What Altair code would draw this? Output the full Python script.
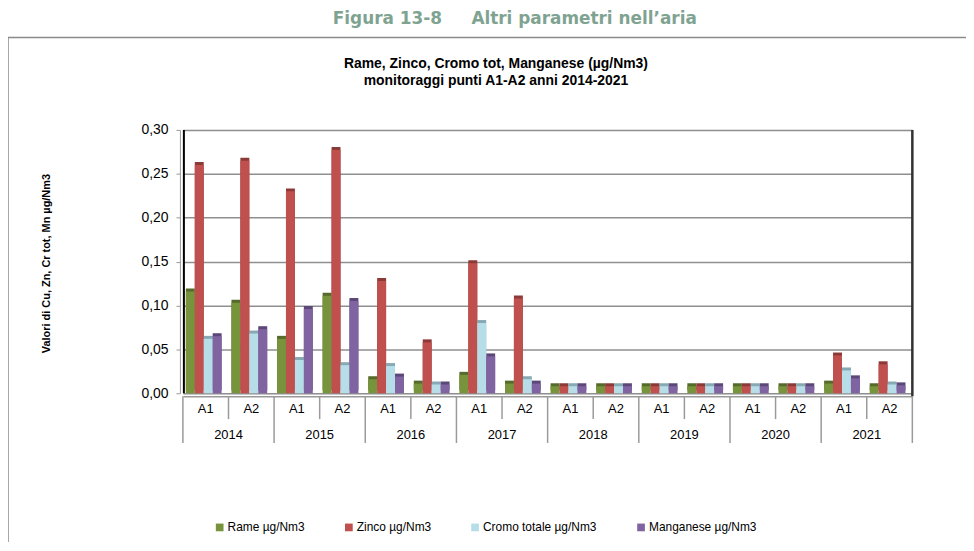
import altair as alt
import pandas as pd

years = ["2014", "2015", "2016", "2017", "2018", "2019", "2020", "2021"]
stations = ["A1", "A2"]
series = ["Rame µg/Nm3", "Zinco µg/Nm3", "Cromo totale µg/Nm3", "Manganese µg/Nm3"]
colors = ["#77933C", "#C0504D", "#B7DEE8", "#8064A2"]
dark_colors = ["#566B2B", "#8C3A38", "#86A9B3", "#5C4878"]

# values per (year, station) in order 2014 A1, 2014 A2, 2015 A1, ...
rame = [0.116, 0.103, 0.062, 0.111, 0.016, 0.011, 0.021, 0.011,
        0.008, 0.008, 0.008, 0.008, 0.008, 0.008, 0.011, 0.008]
zinco = [0.260, 0.265, 0.230, 0.277, 0.128, 0.058, 0.148, 0.108,
         0.008, 0.008, 0.008, 0.008, 0.008, 0.008, 0.043, 0.033]
cromo = [0.062, 0.068, 0.038, 0.032, 0.031, 0.010, 0.080, 0.016,
         0.008, 0.008, 0.008, 0.008, 0.008, 0.008, 0.026, 0.010]
manganese = [0.065, 0.073, 0.096, 0.105, 0.019, 0.010, 0.042, 0.011,
             0.008, 0.008, 0.008, 0.008, 0.008, 0.008, 0.017, 0.009]

y_ticks = [0, 0.05, 0.10, 0.15, 0.20, 0.25, 0.30]

W, H = 734, 265

keys = [f"{y}|{s}" for y in years for s in stations]
rows = []
for si, (name, vals) in enumerate(zip(series, [rame, zinco, cromo, manganese])):
    for k, v in zip(keys, vals):
        rows.append({"k": k, "s": name, "v": v, "dark": dark_colors[si]})
df = pd.DataFrame(rows)

x_scale = alt.Scale(domain=keys, paddingInner=0, paddingOuter=0)
x_axis = alt.Axis(title=None, labelExpr="split(datum.label, '|')[1]", ticks=False,
                  domainColor="#999999", domainWidth=1.5, offset=3, labelAngle=0,
                  labelFontSize=13, labelFont="Liberation Sans", labelColor="#000000",
                  labelPadding=6)
xo = alt.XOffset("s:N", sort=series,
                 scale=alt.Scale(domain=series, paddingInner=0, paddingOuter=0.55, align=0.3))
y_enc = alt.Y("v:Q", scale=alt.Scale(domain=[0, 0.3], nice=False),
              axis=alt.Axis(values=y_ticks, title="Valori di Cu, Zn, Cr tot, Mn µg/Nm3",
                            labelExpr="replace(format(datum.value, '.2f'), '.', ',')",
                            grid=True, gridColor="#8f8f8f", gridWidth=1.5,
                            domainColor="#999999", domainWidth=1, tickColor="#999999",
                            tickSize=4, offset=3, labelFontSize=14, labelFont="Liberation Sans",
                            labelColor="#000000", labelPadding=8,
                            titleFont="Liberation Sans", titleFontSize=11, titleFontWeight="bold",
                            titleColor="#000000", titleAngle=270, titleX=-134, titleY=134,
                            titleAlign="center", titleBaseline="middle"))

one = pd.DataFrame({"a": [0]})

frame = alt.Chart(one).mark_rect(filled=False, stroke="#8a8a8a", strokeWidth=1.5).encode(
    x=alt.value(-176), x2=alt.value(800), y=alt.value(-93), y2=alt.value(520))

shadow = alt.Chart(df).mark_bar(xOffset=3, x2Offset=3, yOffset=-3, y2Offset=-3).encode(
    x=alt.X("k:N", scale=x_scale, axis=x_axis),
    xOffset=xo,
    y=y_enc,
    color=alt.Color("dark:N", scale=None, legend=None),
)

bars = alt.Chart(df).mark_bar().encode(
    x=alt.X("k:N", scale=x_scale, axis=x_axis),
    xOffset=xo,
    y=alt.Y("v:Q"),
    color=alt.Color("s:N", sort=series, scale=alt.Scale(domain=series, range=colors),
                    legend=alt.Legend(orient="none", legendX=31, legendY=394, direction="horizontal",
                                      columns=4, title=None, symbolType="square", symbolSize=60,
                                      symbolStrokeWidth=0, labelFontSize=12,
                                      labelFont="Liberation Sans", labelColor="#000000",
                                      columnPadding=38, labelOffset=2, gridAlign="none")),
)

walls = alt.Chart(one).mark_rule(color="#000000", strokeWidth=2).encode(
    x=alt.value(1), y=alt.value(0), y2=alt.value(H))
right_wall = alt.Chart(one).mark_rule(color="#333333", strokeWidth=2.5).encode(
    x=alt.value(W), y=alt.value(0), y2=alt.value(H + 3))

sep = pd.DataFrame({"k": keys, "st": [k.split("|")[1] for k in keys]})
sep_long = alt.Chart(sep).transform_filter("datum.st == 'A1'").mark_rule(
    color="#9a9a9a", strokeWidth=1.5).encode(
    x=alt.X("k:N", scale=x_scale, axis=x_axis, bandPosition=0),
    y=alt.value(H + 3), y2=alt.value(H + 50))
sep_short = alt.Chart(sep).transform_filter("datum.st == 'A2'").mark_rule(
    color="#9a9a9a", strokeWidth=1.5).encode(
    x=alt.X("k:N", scale=x_scale, axis=x_axis, bandPosition=0),
    y=alt.value(H + 3), y2=alt.value(H + 26))
sep_end = alt.Chart(one).mark_rule(color="#9a9a9a", strokeWidth=1.5).encode(
    x=alt.value(W), y=alt.value(H + 3), y2=alt.value(H + 50))

yl = pd.DataFrame({"k": [f"{y}|A2" for y in years], "year": years})
year_text = alt.Chart(yl).mark_text(fontSize=13, font="Liberation Sans", color="#000000",
                                    baseline="middle").encode(
    x=alt.X("k:N", scale=x_scale, axis=x_axis, bandPosition=0),
    y=alt.value(H + 42), text="year:N")

fig_title = alt.Chart(one).mark_text(fontSize=17, font="DejaVu Sans", fontWeight="bold",
                                     color="#7FA391", align="center", baseline="middle").encode(
    x=alt.value(334), y=alt.value(-112),
    text=alt.value("Figura 13-8\u00a0\u00a0\u00a0\u00a0\u00a0Altri parametri nell\u2019aria"))
t1 = alt.Chart(one).mark_text(fontSize=14, font="Liberation Sans", fontWeight="bold",
                              color="#000000", align="center", baseline="middle").encode(
    x=alt.value(315), y=alt.value(-66),
    text=alt.value("Rame, Zinco, Cromo tot, Manganese (µg/Nm3)"))
t2 = alt.Chart(one).mark_text(fontSize=14, font="Liberation Sans", fontWeight="bold",
                              color="#000000", align="center", baseline="middle").encode(
    x=alt.value(315), y=alt.value(-49),
    text=alt.value("monitoraggi punti A1-A2 anni 2014-2021"))

chart = alt.layer(
    frame, shadow, bars, walls, right_wall, sep_long, sep_short, sep_end, year_text,
    fig_title, t1, t2
).resolve_scale(color="independent").properties(
    width=W, height=H,
    autosize=alt.AutoSizeParams(type="none"),
    padding={"left": 176, "top": 121, "right": 54, "bottom": 148},
).configure_view(stroke=None).configure(background="white")

chart.save("out.html", embed_options={"renderer": "svg", "actions": False})
